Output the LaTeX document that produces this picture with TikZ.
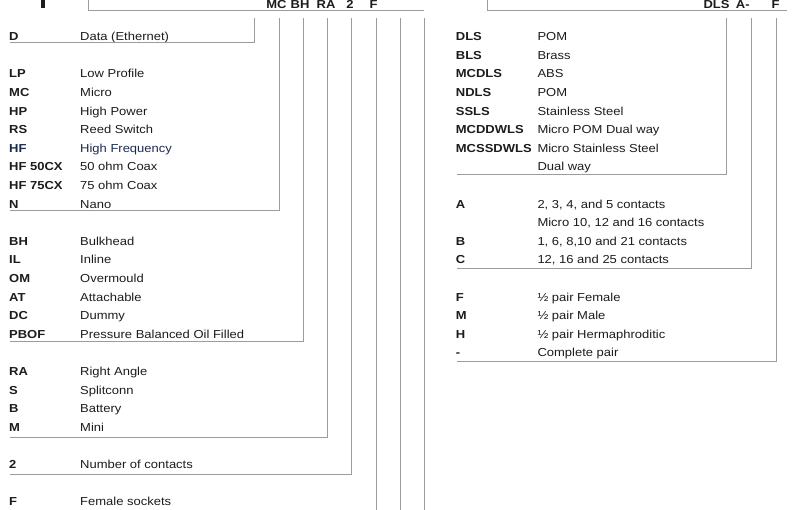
\documentclass[tikz,border=0pt]{standalone}
\usepackage{fontspec}
\setmainfont{Liberation Sans}[FakeStretch=1.12]
\usetikzlibrary{positioning,calc}
\definecolor{ink}{HTML}{1C1C1C}
\definecolor{navy}{HTML}{1D2B4F}
\definecolor{rule}{HTML}{9C9C9C}
\tikzset{
  every node/.style={font=\fontsize{11.6}{13}\selectfont,text=ink,inner sep=0pt},
  code/.style={anchor=base west,font=\fontsize{11.6}{13}\selectfont\bfseries},
  desc/.style={anchor=base west},
  head/.style={anchor=base,font=\fontsize{11.6}{13}\selectfont\bfseries},
  bracket/.style={draw=rule,line width=1pt},
}

\begin{document}
\begin{tikzpicture}[x=1pt,y=-1pt]
  \useasboundingbox (0,0) rectangle (795,510);

  % left key: part number
  \fill[ink] (41,0) rectangle (45,8);
  \coordinate (lcorner) at (88,0);
  \coordinate (lend) at (424,11);
  \draw[bracket] (lcorner) |- (lend);
  \node[head] (hMC) at (276.5,8.3) {MC};
  \node[head] (hBH) at (300,8.3) {BH};
  \node[head] (hRA) at (326,8.3) {RA};
  \node[head] (h2) at (350,8.3) {2};
  \node[head] (hF) at (373.5,8.3) {F};

  \node[code] (d) at (9,40.7) {D};
  \node[desc] (d-t) at (80,40.7) {Data (Ethernet)};

  \node[code] (lp) at (9,77.9) {LP};
  \node[desc] (lp-t) at (80,77.9) {Low Profile};
  \node[code] (mc) at (9,96.5) {MC};
  \node[desc] (mc-t) at (80,96.5) {Micro};
  \node[code] (hp) at (9,115.1) {HP};
  \node[desc] (hp-t) at (80,115.1) {High Power};
  \node[code] (rs) at (9,133.7) {RS};
  \node[desc] (rs-t) at (80,133.7) {Reed Switch};
  \node[code,text=navy] (hf) at (9,152.3) {HF};
  \node[desc,text=navy] (hf-t) at (80,152.3) {High Frequency};
  \node[code] (hf50) at (9,170.9) {HF 50CX};
  \node[desc] (hf50-t) at (80,170.9) {50 ohm Coax};
  \node[code] (hf75) at (9,189.5) {HF 75CX};
  \node[desc] (hf75-t) at (80,189.5) {75 ohm Coax};
  \node[code] (n) at (9,208.1) {N};
  \node[desc] (n-t) at (80,208.1) {Nano};

  \node[code] (bh) at (9,245.3) {BH};
  \node[desc] (bh-t) at (80,245.3) {Bulkhead};
  \node[code] (il) at (9,263.9) {IL};
  \node[desc] (il-t) at (80,263.9) {Inline};
  \node[code] (om) at (9,282.5) {OM};
  \node[desc] (om-t) at (80,282.5) {Overmould};
  \node[code] (at) at (9,301.1) {AT};
  \node[desc] (at-t) at (80,301.1) {Attachable};
  \node[code] (dc) at (9,319.7) {DC};
  \node[desc] (dc-t) at (80,319.7) {Dummy};
  \node[code] (pbof) at (9,338.3) {PBOF};
  \node[desc] (pbof-t) at (80,338.3) {Pressure Balanced Oil Filled};

  \node[code] (ra) at (9,375.5) {RA};
  \node[desc] (ra-t) at (80,375.5) {Right Angle};
  \node[code] (s) at (9,394.1) {S};
  \node[desc] (s-t) at (80,394.1) {Splitconn};
  \node[code] (b) at (9,412.7) {B};
  \node[desc] (b-t) at (80,412.7) {Battery};
  \node[code] (m) at (9,431.3) {M};
  \node[desc] (m-t) at (80,431.3) {Mini};

  \node[code] (two) at (9,468.5) {2};
  \node[desc] (two-t) at (80,468.5) {Number of contacts};

  \node[code] (f) at (9,505.7) {F};
  \node[desc] (f-t) at (80,505.7) {Female sockets};

  % left brackets
  \coordinate (tD) at (254,18);    \coordinate (bD) at (10,43);
  \coordinate (tMC) at (279,18);   \coordinate (bMC) at (10,211);
  \coordinate (tBH) at (303,18);   \coordinate (bBH) at (10,342);
  \coordinate (tRA) at (327,18);   \coordinate (bRA) at (10,437);
  \coordinate (t2) at (351,18);    \coordinate (b2) at (10,474);
  \draw[bracket] (tD) |- (bD);
  \draw[bracket] (tMC) |- (bMC);
  \draw[bracket] (tBH) |- (bBH);
  \draw[bracket] (tRA) |- (bRA);
  \draw[bracket] (t2) |- (b2);
  \coordinate (tF) at (376,18);    \coordinate (bF) at (376,511);
  \coordinate (tX) at (400,18);    \coordinate (bX) at (400,511);
  \coordinate (tY) at (424,18);    \coordinate (bY) at (424,511);
  \draw[bracket] (tF) -- (bF);
  \draw[bracket] (tX) -- (bX);
  \draw[bracket] (tY) -- (bY);

  % right key: locking sleeve
  \coordinate (rcorner) at (487,0);
  \coordinate (rend) at (787,11);
  \draw[bracket] (rcorner) |- (rend);
  \node[head] (hDLS) at (716.5,8.3) {DLS};
  \node[head] (hA) at (740.5,8.3) {A};
  \node[head] (hdash) at (747.5,8.3) {-};
  \node[head] (hF2) at (775.5,8.3) {F};

  \node[code] (dls) at (455.7,40.7) {DLS};
  \node[desc] (dls-t) at (537.3,40.7) {POM};
  \node[code] (bls) at (455.7,59.3) {BLS};
  \node[desc] (bls-t) at (537.3,59.3) {Brass};
  \node[code] (mcdls) at (455.7,77.9) {MCDLS};
  \node[desc] (mcdls-t) at (537.3,77.9) {ABS};
  \node[code] (ndls) at (455.7,96.5) {NDLS};
  \node[desc] (ndls-t) at (537.3,96.5) {POM};
  \node[code] (ssls) at (455.7,115.1) {SSLS};
  \node[desc] (ssls-t) at (537.3,115.1) {Stainless Steel};
  \node[code] (mcddwls) at (455.7,133.7) {MCDDWLS};
  \node[desc] (mcddwls-t) at (537.3,133.7) {Micro POM Dual way};
  \node[code] (mcssdwls) at (455.7,152.3) {MCSSDWLS};
  \node[desc] (mcssdwls-t) at (537.3,152.3) {Micro Stainless Steel};
  \node[desc] (mcssdwls-t2) at (537.3,170.9) {Dual way};

  \node[code] (ka) at (455.7,208.1) {A};
  \node[desc] (ka-t) at (537.3,208.1) {2, 3, 4, and 5 contacts};
  \node[desc] (ka-t2) at (537.3,226.7) {Micro 10, 12 and 16 contacts};
  \node[code] (kb) at (455.7,245.3) {B};
  \node[desc] (kb-t) at (537.3,245.3) {1, 6, 8,10 and 21 contacts};
  \node[code] (kc) at (455.7,263.9) {C};
  \node[desc] (kc-t) at (537.3,263.9) {12, 16 and 25 contacts};

  \node[code] (pf) at (455.7,301.1) {F};
  \node[desc] (pf-t) at (537.3,301.1) {½ pair Female};
  \node[code] (pm) at (455.7,319.7) {M};
  \node[desc] (pm-t) at (537.3,319.7) {½ pair Male};
  \node[code] (ph) at (455.7,338.3) {H};
  \node[desc] (ph-t) at (537.3,338.3) {½ pair Hermaphroditic};
  \node[code] (pc) at (455.7,356.9) {-};
  \node[desc] (pc-t) at (537.3,356.9) {Complete pair};

  % right brackets
  \coordinate (tDLS) at (726,18);  \coordinate (bDLS) at (457,175);
  \coordinate (tA) at (751,18);    \coordinate (bA) at (457,268.5);
  \coordinate (tF2) at (776,18);   \coordinate (bF2) at (457,362);
  \draw[bracket] (tDLS) |- (bDLS);
  \draw[bracket] (tA) |- (bA);
  \draw[bracket] (tF2) |- (bF2);
\end{tikzpicture}
\end{document}
